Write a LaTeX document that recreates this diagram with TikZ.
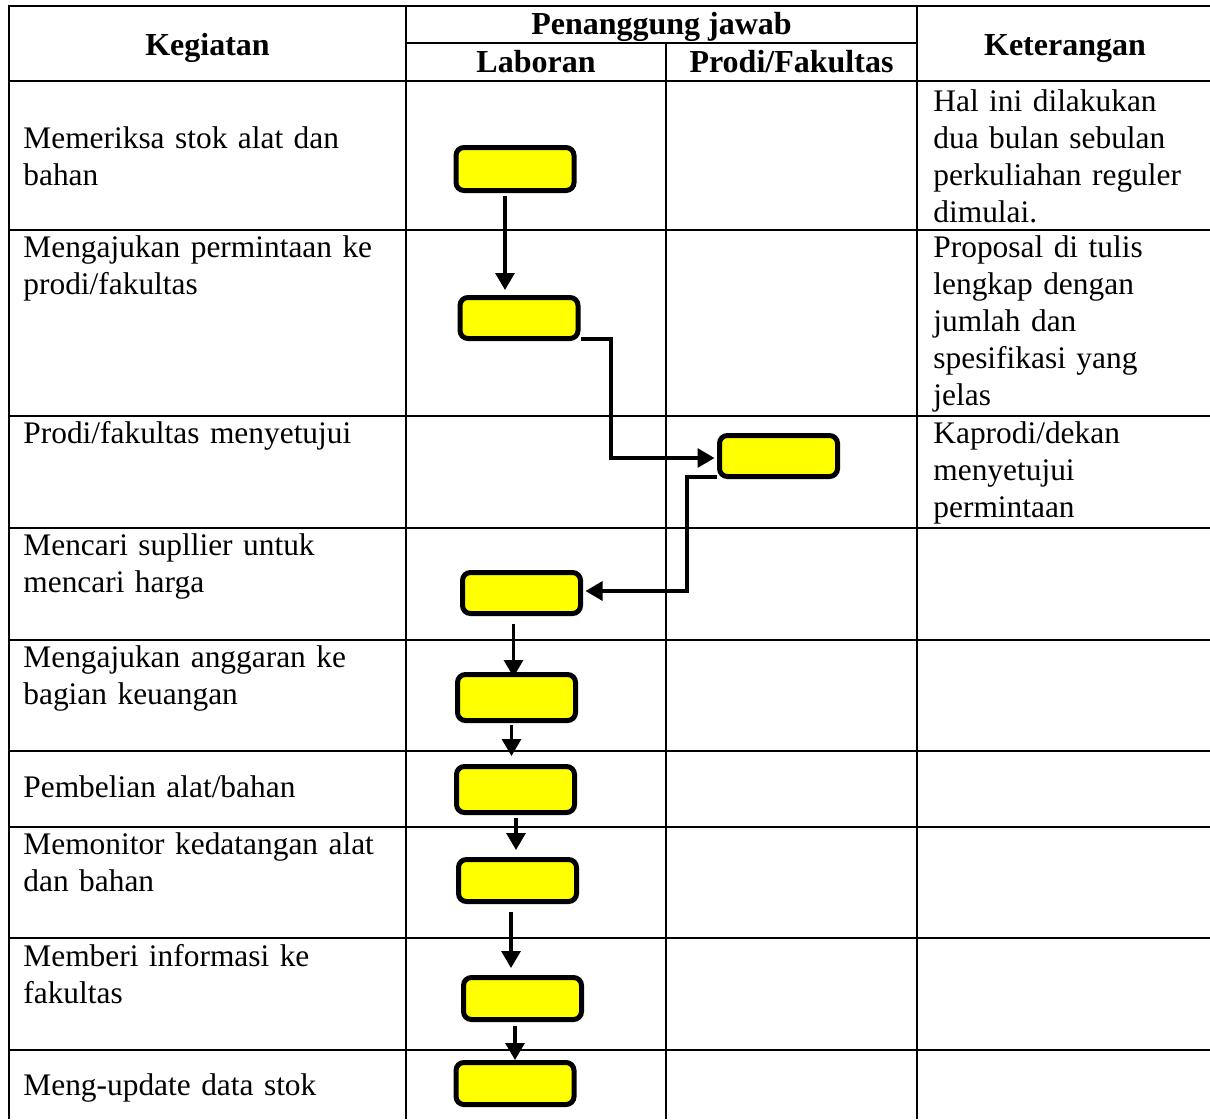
\documentclass[tikz,border=0pt]{standalone}
\usepackage{fontspec}
\setmainfont{Liberation Serif}
\usetikzlibrary{arrows.meta,calc}
\definecolor{pyel}{RGB}{255,255,0}
\begin{document}
\begin{tikzpicture}[x=0.5pt,y=-0.5pt,
  grid/.style={line width=1.2pt,black},
  outer/.style={line width=1.4pt,black},
  hdr/.style={anchor=base,inner sep=0pt,font=\fontsize{16pt}{18.5pt}\selectfont\bfseries},
  txt/.style={anchor=base west,inner sep=0pt,align=left,text width=190pt,font=\fontsize{15.7pt}{18.5pt}\selectfont},
  ket/.style={anchor=base west,inner sep=0pt,align=left,text width=140pt,font=\fontsize{15.7pt}{18.5pt}\selectfont},
  pbox/.style={draw=black,line width=2.5pt,fill=pyel,rounded corners=4pt,minimum width=59pt,minimum height=21pt,inner sep=0pt},
  arr/.style={line width=1.6pt,black,-{Triangle[width=9.5pt,length=8.5pt]}}
]
\useasboundingbox (0,0) rectangle (1210,1119);
% table frame
\draw[outer] (9,1119) -- (9,6) -- (1210,6);
\draw[grid] (406,43) -- (917,43);
\draw[grid] (9,81) -- (1210,81);
\foreach \y in {230,416,528,640,751,827,938,1050}
  \draw[grid] (9,\y) -- (1210,\y);
\draw[grid] (406,6) -- (406,1119);
\draw[grid] (666,43) -- (666,1119);
\draw[grid] (917,6) -- (917,1119);
% headers
\node[hdr] (hk) at (207.5,55) {Kegiatan};
\node[hdr] (hp) at (661.5,34) {Penanggung jawab};
\node[hdr] (hl) at (536,72) {Laboran};
\node[hdr] (hf) at (791.5,72) {Prodi/Fakultas};
\node[hdr] (ht) at (1065,55) {Keterangan};
% activities
\node[txt] (t1) at (23,148) {Memeriksa stok alat dan\\bahan};
\node[txt] (t2) at (23,257) {Mengajukan permintaan ke\\prodi/fakultas};
\node[txt] (t3) at (23,443) {Prodi/fakultas menyetujui};
\node[txt] (t4) at (23,555) {Mencari supllier untuk\\mencari harga};
\node[txt] (t5) at (23,667) {Mengajukan anggaran ke\\bagian keuangan};
\node[txt] (t6) at (23,797) {Pembelian alat/bahan};
\node[txt] (t7) at (23,854) {Memonitor kedatangan alat\\dan bahan};
\node[txt] (t8) at (23,966) {Memberi informasi ke\\fakultas};
\node[txt] (t9) at (23,1095) {Meng-update data stok};
% notes
\node[ket] (n1) at (933,111) {Hal ini dilakukan\\dua bulan sebulan\\perkuliahan reguler\\dimulai.};
\node[ket] (n2) at (933,257) {Proposal di tulis\\lengkap dengan\\jumlah dan\\spesifikasi yang\\jelas};
\node[ket] (n3) at (933,443) {Kaprodi/dekan\\menyetujui\\permintaan};
% boxes
\node[pbox,minimum height=21.5pt] (b1) at (515,169) {};
\node[pbox,minimum height=20.5pt] (b2) at (519,318) {};
\node[pbox,minimum height=20.5pt] (b3) at (778.5,456) {};
\node[pbox,minimum height=20.5pt] (b4) at (521.5,593) {};
\node[pbox,minimum height=23pt] (b5) at (516.5,697.5) {};
\node[pbox,minimum height=23pt] (b6) at (515.5,789.5) {};
\node[pbox] (b7) at (517.5,880.5) {};
\node[pbox] (b8) at (522.5,998.5) {};
\node[pbox] (b9) at (515,1083.5) {};
% bend coordinates
\coordinate (k1) at (611,0);
\coordinate (k2) at (687,0);
% connectors
\draw[arr] ($(b1.south)+(-10,3)$) -- ($(b1.south |- b2.north)+(-10,-5)$);
\draw[arr] ($(b2.east)+(0,21)$) coordinate (s23) -- (s23 -| k1) |- ($(b3.west)+(-2.5,2)$);
\draw[arr] ($(b3.west)+(0,21)$) coordinate (s34) -- (s34 -| k2) |- ($(b4.east)+(2.5,-2)$);
\draw[arr] ($(b4.south)+(-8,8)$) -- ($(b4.south |- b5.north)+(-8,5)$);
\draw[arr] ($(b5.south)+(-5,2)$) -- ($(b5.south |- b6.north)+(-5,-8)$);
\draw[arr] ($(b6.south)+(0.5,3)$) -- ($(b6.south |- b7.north)+(0.5,-7)$);
\draw[arr] ($(b7.south)+(-6.5,8)$) -- ($(b7.south |- b8.north)+(-6.5,-7)$);
\draw[arr] ($(b8.south)+(-7.5,4)$) -- ($(b8.south |- b9.north)+(-7.5,0)$);
\end{tikzpicture}
\end{document}
